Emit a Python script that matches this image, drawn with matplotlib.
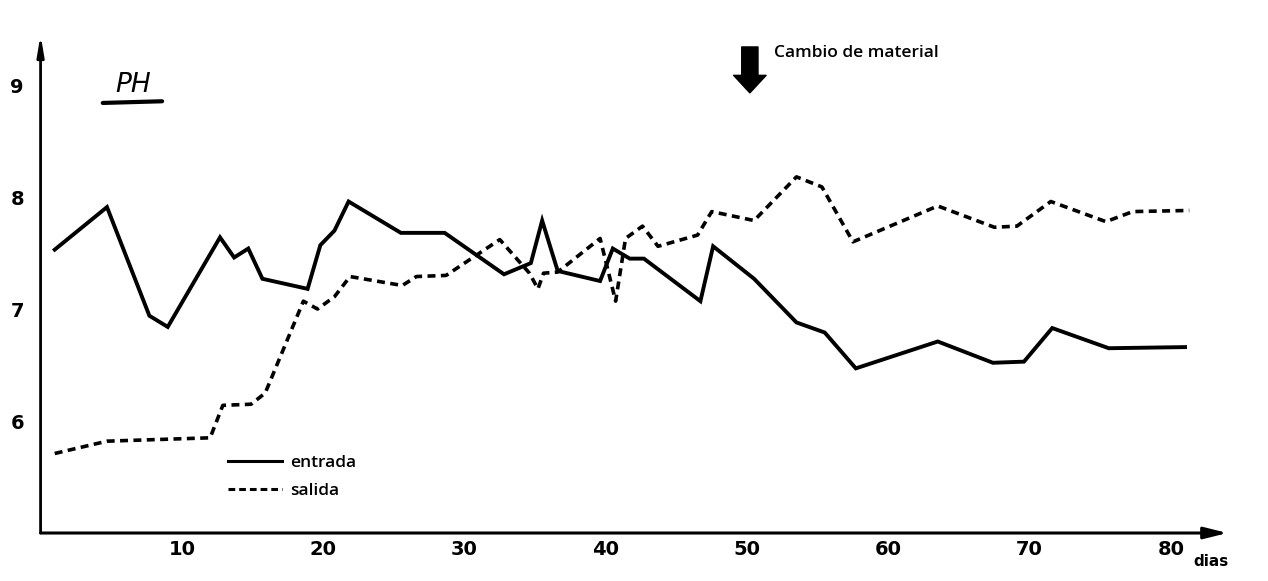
import matplotlib
matplotlib.use("Agg")
import matplotlib.pyplot as plt
from matplotlib.lines import Line2D

# ---- data ----
entrada_dias = [1, 4.7, 7.7, 9, 12.7, 13.7, 14.7, 15.7, 18.9, 19.8, 20.8, 21.8,
                25.5, 28.6, 32.8, 34.7, 35.5, 36.6, 39.6, 40.5, 41.7, 42.7, 46.7,
                47.6, 50.5, 53.5, 55.5, 57.7, 63.5, 67.4, 69.6, 71.6, 75.6, 81]
entrada_ph = [7.53, 7.91, 6.94, 6.84, 7.64, 7.46, 7.54, 7.27, 7.18, 7.57, 7.70, 7.96,
              7.68, 7.68, 7.31, 7.41, 7.79, 7.34, 7.25, 7.54, 7.45, 7.45, 7.07,
              7.56, 7.27, 6.88, 6.79, 6.47, 6.71, 6.52, 6.53, 6.83, 6.65, 6.66]

salida_dias = [1, 4.7, 12.0, 12.9, 14.9, 15.9, 18.6, 19.6, 20.8, 21.9, 25.6, 26.6,
               28.7, 32.5, 34.6, 35.2, 35.6, 36.6, 39.6, 40.7, 41.4, 42.6, 43.7,
               46.5, 47.5, 50.5, 53.5, 55.3, 57.5, 63.5, 67.5, 69.1, 71.5, 75.4,
               77.3, 81.3]
salida_ph = [5.71, 5.82, 5.85, 6.14, 6.15, 6.25, 7.07, 7.00, 7.11, 7.29, 7.21, 7.29,
             7.30, 7.62, 7.32, 7.18, 7.32, 7.33, 7.63, 7.07, 7.63, 7.74, 7.56,
             7.66, 7.87, 7.79, 8.18, 8.09, 7.60, 7.92, 7.73, 7.74, 7.96, 7.78,
             7.87, 7.88]

x_ticks = [10, 20, 30, 40, 50, 60, 70, 80]
y_ticks = [6, 7, 8, 9]
cambio_dia = 50.2

# ---- figure ----
fig = plt.figure(figsize=(12.68, 5.81), dpi=100)
ax = fig.add_axes([0.032, 0.0826, 0.936, 0.8578])
ax.set_xlim(0, 84)
ax.set_ylim(5, 9.45)

ax.plot(entrada_dias, entrada_ph, color="black", lw=2.8, solid_joinstyle="miter")
ax.plot(salida_dias, salida_ph, color="black", lw=2.6, dashes=(2.2, 1.5))

for s in ax.spines.values():
    s.set_visible(False)

# axes drawn as arrows
ax.annotate("", xy=(1.0, 0), xytext=(0, 0), xycoords="axes fraction",
            arrowprops=dict(arrowstyle="-|>,head_length=1.4,head_width=0.35",
                            color="black", lw=2.2, shrinkA=0, shrinkB=0))
ax.annotate("", xy=(0, 1.0), xytext=(0, 0), xycoords="axes fraction",
            arrowprops=dict(arrowstyle="-|>,head_length=1.2,head_width=0.2",
                            color="black", lw=2.0, shrinkA=0, shrinkB=0))

ax.set_xticks(x_ticks)
ax.set_yticks(y_ticks)
ax.set_xticklabels([str(v) for v in x_ticks], fontsize=14, fontweight="bold")
ax.set_yticklabels([str(v) for v in y_ticks], fontsize=14, fontweight="bold")
ax.tick_params(axis="both", length=0)
ax.tick_params(axis="x", pad=5)
ax.tick_params(axis="y", pad=12)

ax.text(0.986, -0.042, "dias", transform=ax.transAxes, ha="center", va="top",
        fontsize=11, fontweight="bold")

# PH title with underline
ax.text(5.3, 9.0, "PH", fontsize=19, fontstyle="italic", ha="left", va="center")
ax.annotate("", xy=(8.6, 8.855), xytext=(4.4, 8.84),
            arrowprops=dict(arrowstyle="-", lw=3, color="black",
                            shrinkA=0, shrinkB=0))

# material change marker
ax.annotate("", xy=(cambio_dia, 8.93), xytext=(cambio_dia, 9.34),
            arrowprops=dict(arrowstyle="simple,head_length=0.7,head_width=1.3,tail_width=0.65",
                            color="black", mutation_scale=18, shrinkA=0, shrinkB=0))
ax.text(51.9, 9.29, "Cambio de material", fontsize=12.5, fontweight="semibold",
        ha="left", va="center", family="Open Sans")

handles = [Line2D([], [], color="black", lw=2.2),
           Line2D([], [], color="black", lw=2.2, dashes=(2.2, 1.3))]
leg = ax.legend(handles, ["entrada", "salida"], loc="center left",
                bbox_to_anchor=(0.158, 0.113), frameon=False, borderpad=0,
                borderaxespad=0, handlelength=3.1, handletextpad=0.5,
                labelspacing=0.7, prop=dict(family="Open Sans", weight="semibold", size=12.5))

fig.savefig("out.png", dpi=100, facecolor="white")
